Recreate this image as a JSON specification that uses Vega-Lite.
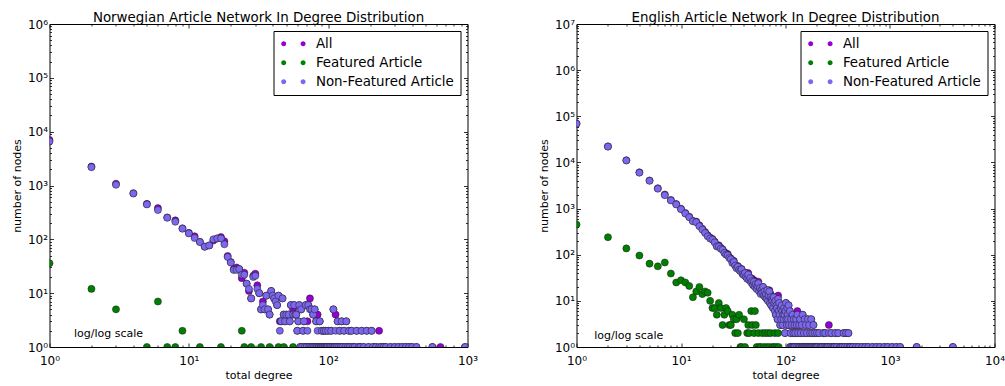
{
  "$schema": "https://vega.github.io/schema/vega-lite/v6.json",
  "background": "white",
  "padding": {"left": 10.5, "top": 10, "right": 0, "bottom": 0},
  "spacing": 59,
  "datasets": {
    "norwegian": [
      {"series":"All","degree":1,"count":7000},{"series":"All","degree":2,"count":2250},{"series":"All","degree":3,"count":1080},{"series":"All","degree":4,"count":720},{"series":"All","degree":5,"count":455},{"series":"All","degree":6,"count":380},{"series":"All","degree":7,"count":255},{"series":"All","degree":8,"count":225},{"series":"All","degree":9,"count":160},{"series":"All","degree":10,"count":132},
      {"series":"All","degree":11,"count":114},{"series":"All","degree":12,"count":90},{"series":"All","degree":13,"count":73},{"series":"All","degree":14,"count":77},{"series":"All","degree":15,"count":95},{"series":"All","degree":16,"count":104},{"series":"All","degree":17,"count":110},{"series":"All","degree":18,"count":92},{"series":"All","degree":19,"count":49},{"series":"All","degree":20,"count":38},
      {"series":"All","degree":21,"count":28},{"series":"All","degree":22,"count":30},{"series":"All","degree":23,"count":28},{"series":"All","degree":24,"count":19},{"series":"All","degree":25,"count":24},{"series":"All","degree":26,"count":15},{"series":"All","degree":27,"count":11},{"series":"All","degree":28,"count":8},{"series":"All","degree":29,"count":21},{"series":"All","degree":30,"count":23},
      {"series":"All","degree":31,"count":14},{"series":"All","degree":32,"count":10},{"series":"All","degree":33,"count":5},{"series":"All","degree":34,"count":7},{"series":"All","degree":35,"count":5},{"series":"All","degree":36,"count":9},{"series":"All","degree":37,"count":5},{"series":"All","degree":38,"count":4},{"series":"All","degree":39,"count":11},{"series":"All","degree":40,"count":9},
      {"series":"All","degree":41,"count":8},{"series":"All","degree":42,"count":8},{"series":"All","degree":43,"count":6},{"series":"All","degree":44,"count":9},{"series":"All","degree":45,"count":3},{"series":"All","degree":46,"count":3},{"series":"All","degree":47,"count":8},{"series":"All","degree":48,"count":4},{"series":"All","degree":49,"count":3},{"series":"All","degree":50,"count":4},
      {"series":"All","degree":52,"count":4},{"series":"All","degree":53,"count":3},{"series":"All","degree":54,"count":6},{"series":"All","degree":56,"count":5},{"series":"All","degree":57,"count":6},{"series":"All","degree":58,"count":4},{"series":"All","degree":59,"count":4},{"series":"All","degree":60,"count":2},{"series":"All","degree":61,"count":3},{"series":"All","degree":62,"count":6},
      {"series":"All","degree":63,"count":1},{"series":"All","degree":64,"count":5},{"series":"All","degree":65,"count":1},{"series":"All","degree":66,"count":2},{"series":"All","degree":67,"count":3},{"series":"All","degree":68,"count":1},{"series":"All","degree":69,"count":6},{"series":"All","degree":70,"count":1},{"series":"All","degree":71,"count":3},{"series":"All","degree":72,"count":6},
      {"series":"All","degree":73,"count":1},{"series":"All","degree":74,"count":8},{"series":"All","degree":75,"count":1},{"series":"All","degree":76,"count":5},{"series":"All","degree":77,"count":1},{"series":"All","degree":78,"count":4},{"series":"All","degree":79,"count":1},{"series":"All","degree":80,"count":5},{"series":"All","degree":81,"count":1},{"series":"All","degree":82,"count":3},
      {"series":"All","degree":83,"count":1},{"series":"All","degree":84,"count":4},{"series":"All","degree":85,"count":1},{"series":"All","degree":86,"count":1},{"series":"All","degree":87,"count":3},{"series":"All","degree":88,"count":1},{"series":"All","degree":89,"count":1},{"series":"All","degree":90,"count":2},{"series":"All","degree":91,"count":1},{"series":"All","degree":92,"count":1},
      {"series":"All","degree":93,"count":2},{"series":"All","degree":94,"count":1},{"series":"All","degree":95,"count":1},{"series":"All","degree":96,"count":2},{"series":"All","degree":97,"count":1},{"series":"All","degree":98,"count":1},{"series":"All","degree":99,"count":1},{"series":"All","degree":100,"count":2},{"series":"All","degree":102,"count":1},{"series":"All","degree":104,"count":1},
      {"series":"All","degree":105,"count":2},{"series":"All","degree":107,"count":1},{"series":"All","degree":109,"count":5},{"series":"All","degree":110,"count":1},{"series":"All","degree":112,"count":1},{"series":"All","degree":113,"count":4},{"series":"All","degree":115,"count":1},{"series":"All","degree":117,"count":3},{"series":"All","degree":119,"count":1},{"series":"All","degree":121,"count":2},
      {"series":"All","degree":123,"count":1},{"series":"All","degree":125,"count":3},{"series":"All","degree":127,"count":1},{"series":"All","degree":130,"count":2},{"series":"All","degree":133,"count":1},{"series":"All","degree":135,"count":3},{"series":"All","degree":138,"count":1},{"series":"All","degree":141,"count":2},{"series":"All","degree":143,"count":1},{"series":"All","degree":147,"count":2},
      {"series":"All","degree":150,"count":1},{"series":"All","degree":155,"count":1},{"series":"All","degree":160,"count":2},{"series":"All","degree":165,"count":1},{"series":"All","degree":170,"count":1},{"series":"All","degree":174,"count":2},{"series":"All","degree":180,"count":1},{"series":"All","degree":189,"count":2},{"series":"All","degree":195,"count":1},{"series":"All","degree":205,"count":2},
      {"series":"All","degree":210,"count":1},{"series":"All","degree":220,"count":1},{"series":"All","degree":232,"count":2},{"series":"All","degree":240,"count":1},{"series":"All","degree":250,"count":1},{"series":"All","degree":260,"count":1},{"series":"All","degree":280,"count":1},{"series":"All","degree":300,"count":1},{"series":"All","degree":320,"count":1},{"series":"All","degree":340,"count":1},
      {"series":"All","degree":360,"count":1},{"series":"All","degree":380,"count":1},{"series":"All","degree":400,"count":1},{"series":"All","degree":430,"count":1},{"series":"All","degree":560,"count":1},{"series":"All","degree":640,"count":1},{"series":"All","degree":960,"count":1},

      {"series":"Featured Article","degree":1,"count":36},{"series":"Featured Article","degree":2,"count":12},{"series":"Featured Article","degree":3,"count":5},{"series":"Featured Article","degree":5,"count":1},{"series":"Featured Article","degree":6,"count":7},{"series":"Featured Article","degree":7,"count":1},{"series":"Featured Article","degree":8,"count":1},{"series":"Featured Article","degree":9,"count":2},{"series":"Featured Article","degree":12,"count":1},
      {"series":"Featured Article","degree":17,"count":1},{"series":"Featured Article","degree":24,"count":2},{"series":"Featured Article","degree":25,"count":1},{"series":"Featured Article","degree":28,"count":1},{"series":"Featured Article","degree":33,"count":1},{"series":"Featured Article","degree":38,"count":1},{"series":"Featured Article","degree":44,"count":1},{"series":"Featured Article","degree":48,"count":1},{"series":"Featured Article","degree":56,"count":1},

      {"series":"Non-Featured Article","degree":1,"count":6600},{"series":"Non-Featured Article","degree":2,"count":2190},{"series":"Non-Featured Article","degree":3,"count":1030},{"series":"Non-Featured Article","degree":4,"count":710},{"series":"Non-Featured Article","degree":5,"count":445},{"series":"Non-Featured Article","degree":6,"count":350},{"series":"Non-Featured Article","degree":7,"count":252},{"series":"Non-Featured Article","degree":8,"count":212},{"series":"Non-Featured Article","degree":9,"count":158},{"series":"Non-Featured Article","degree":10,"count":129},
      {"series":"Non-Featured Article","degree":11,"count":106},{"series":"Non-Featured Article","degree":12,"count":89},{"series":"Non-Featured Article","degree":13,"count":73},{"series":"Non-Featured Article","degree":14,"count":77},{"series":"Non-Featured Article","degree":15,"count":100},{"series":"Non-Featured Article","degree":16,"count":104},{"series":"Non-Featured Article","degree":17,"count":104},{"series":"Non-Featured Article","degree":18,"count":81},{"series":"Non-Featured Article","degree":19,"count":47},{"series":"Non-Featured Article","degree":20,"count":37},
      {"series":"Non-Featured Article","degree":21,"count":27},{"series":"Non-Featured Article","degree":22,"count":27},{"series":"Non-Featured Article","degree":23,"count":28},{"series":"Non-Featured Article","degree":24,"count":22},{"series":"Non-Featured Article","degree":25,"count":22},{"series":"Non-Featured Article","degree":26,"count":15},{"series":"Non-Featured Article","degree":27,"count":12},{"series":"Non-Featured Article","degree":28,"count":8},{"series":"Non-Featured Article","degree":29,"count":20},{"series":"Non-Featured Article","degree":30,"count":21},
      {"series":"Non-Featured Article","degree":31,"count":12},{"series":"Non-Featured Article","degree":32,"count":10},{"series":"Non-Featured Article","degree":33,"count":5},{"series":"Non-Featured Article","degree":34,"count":6},{"series":"Non-Featured Article","degree":35,"count":5},{"series":"Non-Featured Article","degree":36,"count":9},{"series":"Non-Featured Article","degree":37,"count":5},{"series":"Non-Featured Article","degree":38,"count":4},{"series":"Non-Featured Article","degree":39,"count":11},{"series":"Non-Featured Article","degree":40,"count":9},
      {"series":"Non-Featured Article","degree":41,"count":8},{"series":"Non-Featured Article","degree":42,"count":7},{"series":"Non-Featured Article","degree":43,"count":6},{"series":"Non-Featured Article","degree":44,"count":9},{"series":"Non-Featured Article","degree":45,"count":2},{"series":"Non-Featured Article","degree":46,"count":3},{"series":"Non-Featured Article","degree":47,"count":8},{"series":"Non-Featured Article","degree":48,"count":4},{"series":"Non-Featured Article","degree":49,"count":3},{"series":"Non-Featured Article","degree":50,"count":4},
      {"series":"Non-Featured Article","degree":52,"count":4},{"series":"Non-Featured Article","degree":53,"count":3},{"series":"Non-Featured Article","degree":54,"count":6},{"series":"Non-Featured Article","degree":56,"count":4},{"series":"Non-Featured Article","degree":57,"count":6},{"series":"Non-Featured Article","degree":58,"count":4},{"series":"Non-Featured Article","degree":59,"count":4},{"series":"Non-Featured Article","degree":60,"count":2},{"series":"Non-Featured Article","degree":61,"count":3},{"series":"Non-Featured Article","degree":62,"count":6},
      {"series":"Non-Featured Article","degree":63,"count":1},{"series":"Non-Featured Article","degree":64,"count":5},{"series":"Non-Featured Article","degree":65,"count":1},{"series":"Non-Featured Article","degree":66,"count":2},{"series":"Non-Featured Article","degree":67,"count":3},{"series":"Non-Featured Article","degree":68,"count":1},{"series":"Non-Featured Article","degree":69,"count":6},{"series":"Non-Featured Article","degree":70,"count":1},{"series":"Non-Featured Article","degree":71,"count":2},{"series":"Non-Featured Article","degree":72,"count":6},
      {"series":"Non-Featured Article","degree":73,"count":1},{"series":"Non-Featured Article","degree":74,"count":5},{"series":"Non-Featured Article","degree":75,"count":1},{"series":"Non-Featured Article","degree":76,"count":5},{"series":"Non-Featured Article","degree":77,"count":1},{"series":"Non-Featured Article","degree":78,"count":4},{"series":"Non-Featured Article","degree":79,"count":1},{"series":"Non-Featured Article","degree":80,"count":5},{"series":"Non-Featured Article","degree":81,"count":1},{"series":"Non-Featured Article","degree":82,"count":3},
      {"series":"Non-Featured Article","degree":83,"count":1},{"series":"Non-Featured Article","degree":84,"count":2},{"series":"Non-Featured Article","degree":85,"count":1},{"series":"Non-Featured Article","degree":86,"count":1},{"series":"Non-Featured Article","degree":87,"count":3},{"series":"Non-Featured Article","degree":88,"count":1},{"series":"Non-Featured Article","degree":89,"count":1},{"series":"Non-Featured Article","degree":90,"count":2},{"series":"Non-Featured Article","degree":91,"count":1},{"series":"Non-Featured Article","degree":92,"count":1},
      {"series":"Non-Featured Article","degree":93,"count":2},{"series":"Non-Featured Article","degree":94,"count":1},{"series":"Non-Featured Article","degree":95,"count":1},{"series":"Non-Featured Article","degree":96,"count":2},{"series":"Non-Featured Article","degree":97,"count":1},{"series":"Non-Featured Article","degree":98,"count":1},{"series":"Non-Featured Article","degree":99,"count":1},{"series":"Non-Featured Article","degree":100,"count":2},{"series":"Non-Featured Article","degree":102,"count":1},{"series":"Non-Featured Article","degree":104,"count":1},
      {"series":"Non-Featured Article","degree":105,"count":2},{"series":"Non-Featured Article","degree":107,"count":1},{"series":"Non-Featured Article","degree":109,"count":5},{"series":"Non-Featured Article","degree":110,"count":1},{"series":"Non-Featured Article","degree":112,"count":1},{"series":"Non-Featured Article","degree":113,"count":2},{"series":"Non-Featured Article","degree":115,"count":1},{"series":"Non-Featured Article","degree":117,"count":3},{"series":"Non-Featured Article","degree":119,"count":1},{"series":"Non-Featured Article","degree":121,"count":2},
      {"series":"Non-Featured Article","degree":123,"count":1},{"series":"Non-Featured Article","degree":125,"count":3},{"series":"Non-Featured Article","degree":127,"count":1},{"series":"Non-Featured Article","degree":130,"count":2},{"series":"Non-Featured Article","degree":133,"count":1},{"series":"Non-Featured Article","degree":135,"count":3},{"series":"Non-Featured Article","degree":138,"count":1},{"series":"Non-Featured Article","degree":141,"count":2},{"series":"Non-Featured Article","degree":143,"count":1},{"series":"Non-Featured Article","degree":147,"count":2},
      {"series":"Non-Featured Article","degree":150,"count":1},{"series":"Non-Featured Article","degree":155,"count":1},{"series":"Non-Featured Article","degree":160,"count":2},{"series":"Non-Featured Article","degree":165,"count":1},{"series":"Non-Featured Article","degree":170,"count":1},{"series":"Non-Featured Article","degree":174,"count":2},{"series":"Non-Featured Article","degree":180,"count":1},{"series":"Non-Featured Article","degree":189,"count":2},{"series":"Non-Featured Article","degree":195,"count":1},{"series":"Non-Featured Article","degree":205,"count":2},
      {"series":"Non-Featured Article","degree":210,"count":1},{"series":"Non-Featured Article","degree":220,"count":1},{"series":"Non-Featured Article","degree":232,"count":1},{"series":"Non-Featured Article","degree":240,"count":1},{"series":"Non-Featured Article","degree":250,"count":1},{"series":"Non-Featured Article","degree":260,"count":1},{"series":"Non-Featured Article","degree":280,"count":1},{"series":"Non-Featured Article","degree":300,"count":1},{"series":"Non-Featured Article","degree":320,"count":1},{"series":"Non-Featured Article","degree":340,"count":1},
      {"series":"Non-Featured Article","degree":360,"count":1},{"series":"Non-Featured Article","degree":380,"count":1},{"series":"Non-Featured Article","degree":400,"count":1},{"series":"Non-Featured Article","degree":430,"count":1},{"series":"Non-Featured Article","degree":560,"count":1},{"series":"Non-Featured Article","degree":960,"count":1}
    ],
    "english": [
      {"series":"All","degree":1,"count":69450},{"series":"All","degree":2,"count":22240},{"series":"All","degree":3,"count":11137},{"series":"All","degree":4,"count":6096},{"series":"All","degree":5,"count":4064},{"series":"All","degree":6,"count":2756},{"series":"All","degree":7,"count":2018},{"series":"All","degree":8,"count":1539},{"series":"All","degree":9,"count":1255},{"series":"All","degree":10,"count":994},
      {"series":"All","degree":11,"count":805},{"series":"All","degree":12,"count":667},{"series":"All","degree":13,"count":542},{"series":"All","degree":14,"count":521},{"series":"All","degree":15,"count":435},{"series":"All","degree":16,"count":364},{"series":"All","degree":17,"count":312},{"series":"All","degree":18,"count":265},{"series":"All","degree":19,"count":235},{"series":"All","degree":20,"count":219},
      {"series":"All","degree":21,"count":192},{"series":"All","degree":22,"count":156},{"series":"All","degree":23,"count":160},{"series":"All","degree":24,"count":142},{"series":"All","degree":25,"count":131},{"series":"All","degree":26,"count":114},{"series":"All","degree":27,"count":107},{"series":"All","degree":28,"count":103},{"series":"All","degree":29,"count":88},{"series":"All","degree":30,"count":83},
      {"series":"All","degree":31,"count":71},{"series":"All","degree":32,"count":74},{"series":"All","degree":33,"count":60},{"series":"All","degree":34,"count":55},{"series":"All","degree":35,"count":57},{"series":"All","degree":36,"count":52},{"series":"All","degree":37,"count":45},{"series":"All","degree":38,"count":49},{"series":"All","degree":39,"count":38},{"series":"All","degree":40,"count":40},
      {"series":"All","degree":41,"count":41},{"series":"All","degree":42,"count":33},{"series":"All","degree":43,"count":32},{"series":"All","degree":44,"count":40},{"series":"All","degree":45,"count":30},{"series":"All","degree":46,"count":31},{"series":"All","degree":47,"count":31},{"series":"All","degree":48,"count":30},{"series":"All","degree":49,"count":22},{"series":"All","degree":50,"count":28},
      {"series":"All","degree":51,"count":26},{"series":"All","degree":52,"count":26},{"series":"All","degree":53,"count":19},{"series":"All","degree":54,"count":21},{"series":"All","degree":55,"count":26},{"series":"All","degree":56,"count":17},{"series":"All","degree":57,"count":19},{"series":"All","degree":58,"count":15},{"series":"All","degree":59,"count":17},{"series":"All","degree":60,"count":17},
      {"series":"All","degree":61,"count":20},{"series":"All","degree":62,"count":14},{"series":"All","degree":63,"count":16},{"series":"All","degree":64,"count":14},{"series":"All","degree":65,"count":14},{"series":"All","degree":66,"count":12},{"series":"All","degree":67,"count":17},{"series":"All","degree":68,"count":12},{"series":"All","degree":69,"count":13},{"series":"All","degree":70,"count":17},
      {"series":"All","degree":71,"count":9},{"series":"All","degree":72,"count":14},{"series":"All","degree":73,"count":8},{"series":"All","degree":74,"count":11},{"series":"All","degree":75,"count":11},{"series":"All","degree":76,"count":7},{"series":"All","degree":77,"count":12},{"series":"All","degree":78,"count":10},{"series":"All","degree":79,"count":8},{"series":"All","degree":80,"count":10},
      {"series":"All","degree":81,"count":5},{"series":"All","degree":82,"count":9},{"series":"All","degree":83,"count":7},{"series":"All","degree":84,"count":4},{"series":"All","degree":85,"count":13},{"series":"All","degree":86,"count":7},{"series":"All","degree":87,"count":9},{"series":"All","degree":88,"count":5},{"series":"All","degree":89,"count":3},{"series":"All","degree":90,"count":7},
      {"series":"All","degree":91,"count":4},{"series":"All","degree":92,"count":8},{"series":"All","degree":93,"count":6},{"series":"All","degree":94,"count":3},{"series":"All","degree":95,"count":5},{"series":"All","degree":96,"count":4},{"series":"All","degree":97,"count":7},{"series":"All","degree":98,"count":5},{"series":"All","degree":99,"count":2},{"series":"All","degree":100,"count":6},
      {"series":"All","degree":101,"count":9},{"series":"All","degree":102,"count":4},{"series":"All","degree":103,"count":3},{"series":"All","degree":104,"count":7},{"series":"All","degree":105,"count":5},{"series":"All","degree":106,"count":4},{"series":"All","degree":107,"count":8},{"series":"All","degree":108,"count":3},{"series":"All","degree":110,"count":6},{"series":"All","degree":111,"count":1},
      {"series":"All","degree":112,"count":2},{"series":"All","degree":113,"count":4},{"series":"All","degree":114,"count":1},{"series":"All","degree":115,"count":3},{"series":"All","degree":116,"count":1},{"series":"All","degree":117,"count":5},{"series":"All","degree":118,"count":1},{"series":"All","degree":119,"count":2},{"series":"All","degree":120,"count":4},{"series":"All","degree":121,"count":1},
      {"series":"All","degree":122,"count":3},{"series":"All","degree":123,"count":1},{"series":"All","degree":124,"count":2},{"series":"All","degree":126,"count":4},{"series":"All","degree":128,"count":3},{"series":"All","degree":129,"count":1},{"series":"All","degree":130,"count":6},{"series":"All","degree":132,"count":2},{"series":"All","degree":134,"count":1},{"series":"All","degree":135,"count":3},
      {"series":"All","degree":137,"count":1},{"series":"All","degree":138,"count":4},{"series":"All","degree":140,"count":2},{"series":"All","degree":142,"count":1},{"series":"All","degree":143,"count":3},{"series":"All","degree":145,"count":1},{"series":"All","degree":146,"count":5},{"series":"All","degree":148,"count":1},{"series":"All","degree":150,"count":2},{"series":"All","degree":152,"count":1},
      {"series":"All","degree":153,"count":4},{"series":"All","degree":155,"count":1},{"series":"All","degree":156,"count":3},{"series":"All","degree":158,"count":1},{"series":"All","degree":160,"count":2},{"series":"All","degree":162,"count":1},{"series":"All","degree":164,"count":4},{"series":"All","degree":166,"count":1},{"series":"All","degree":168,"count":3},{"series":"All","degree":170,"count":1},
      {"series":"All","degree":172,"count":2},{"series":"All","degree":174,"count":1},{"series":"All","degree":176,"count":4},{"series":"All","degree":178,"count":1},{"series":"All","degree":180,"count":2},{"series":"All","degree":183,"count":1},{"series":"All","degree":185,"count":3},{"series":"All","degree":188,"count":1},{"series":"All","degree":190,"count":2},{"series":"All","degree":193,"count":1},
      {"series":"All","degree":195,"count":1},{"series":"All","degree":198,"count":1},{"series":"All","degree":200,"count":2},{"series":"All","degree":205,"count":1},{"series":"All","degree":210,"count":2},{"series":"All","degree":215,"count":1},{"series":"All","degree":220,"count":1},{"series":"All","degree":225,"count":1},{"series":"All","degree":230,"count":2},{"series":"All","degree":235,"count":1},
      {"series":"All","degree":240,"count":2},{"series":"All","degree":245,"count":1},{"series":"All","degree":250,"count":1},{"series":"All","degree":255,"count":1},{"series":"All","degree":260,"count":3},{"series":"All","degree":268,"count":1},{"series":"All","degree":275,"count":2},{"series":"All","degree":280,"count":1},{"series":"All","degree":290,"count":1},{"series":"All","degree":295,"count":1},
      {"series":"All","degree":300,"count":2},{"series":"All","degree":310,"count":1},{"series":"All","degree":320,"count":2},{"series":"All","degree":330,"count":1},{"series":"All","degree":340,"count":1},{"series":"All","degree":350,"count":1},{"series":"All","degree":360,"count":2},{"series":"All","degree":370,"count":1},{"series":"All","degree":380,"count":2},{"series":"All","degree":390,"count":1},
      {"series":"All","degree":400,"count":2},{"series":"All","degree":410,"count":1},{"series":"All","degree":420,"count":1},{"series":"All","degree":440,"count":1},{"series":"All","degree":470,"count":1},{"series":"All","degree":500,"count":1},{"series":"All","degree":540,"count":1},{"series":"All","degree":580,"count":1},{"series":"All","degree":620,"count":1},{"series":"All","degree":680,"count":1},
      {"series":"All","degree":740,"count":1},{"series":"All","degree":800,"count":1},{"series":"All","degree":880,"count":1},{"series":"All","degree":950,"count":1},{"series":"All","degree":1050,"count":1},{"series":"All","degree":1150,"count":1},{"series":"All","degree":1250,"count":1},{"series":"All","degree":1800,"count":1},{"series":"All","degree":4000,"count":1},

      {"series":"Featured Article","degree":1,"count":450},{"series":"Featured Article","degree":2,"count":240},{"series":"Featured Article","degree":3,"count":137},{"series":"Featured Article","degree":4,"count":96},{"series":"Featured Article","degree":5,"count":64},{"series":"Featured Article","degree":6,"count":56},{"series":"Featured Article","degree":7,"count":68},{"series":"Featured Article","degree":8,"count":39},{"series":"Featured Article","degree":9,"count":25},{"series":"Featured Article","degree":10,"count":28},
      {"series":"Featured Article","degree":11,"count":25},{"series":"Featured Article","degree":12,"count":21},{"series":"Featured Article","degree":13,"count":12},{"series":"Featured Article","degree":14,"count":16},{"series":"Featured Article","degree":15,"count":20},{"series":"Featured Article","degree":16,"count":14},{"series":"Featured Article","degree":17,"count":16},{"series":"Featured Article","degree":18,"count":15},{"series":"Featured Article","degree":19,"count":10},{"series":"Featured Article","degree":20,"count":7},
      {"series":"Featured Article","degree":21,"count":7},{"series":"Featured Article","degree":22,"count":5},{"series":"Featured Article","degree":23,"count":9},{"series":"Featured Article","degree":24,"count":7},{"series":"Featured Article","degree":25,"count":3},{"series":"Featured Article","degree":26,"count":5},{"series":"Featured Article","degree":27,"count":7},{"series":"Featured Article","degree":28,"count":6},{"series":"Featured Article","degree":29,"count":3},{"series":"Featured Article","degree":30,"count":3},
      {"series":"Featured Article","degree":31,"count":5},{"series":"Featured Article","degree":32,"count":4},{"series":"Featured Article","degree":33,"count":2},{"series":"Featured Article","degree":34,"count":4},{"series":"Featured Article","degree":35,"count":2},{"series":"Featured Article","degree":36,"count":5},{"series":"Featured Article","degree":37,"count":1},{"series":"Featured Article","degree":38,"count":1},{"series":"Featured Article","degree":40,"count":4},{"series":"Featured Article","degree":41,"count":1},
      {"series":"Featured Article","degree":43,"count":2},{"series":"Featured Article","degree":44,"count":3},{"series":"Featured Article","degree":45,"count":2},{"series":"Featured Article","degree":47,"count":6},{"series":"Featured Article","degree":48,"count":3},{"series":"Featured Article","degree":50,"count":2},{"series":"Featured Article","degree":51,"count":6},{"series":"Featured Article","degree":52,"count":3},{"series":"Featured Article","degree":53,"count":1},{"series":"Featured Article","degree":55,"count":2},
      {"series":"Featured Article","degree":56,"count":1},{"series":"Featured Article","degree":58,"count":1},{"series":"Featured Article","degree":60,"count":2},{"series":"Featured Article","degree":62,"count":1},{"series":"Featured Article","degree":64,"count":2},{"series":"Featured Article","degree":66,"count":1},{"series":"Featured Article","degree":68,"count":2},{"series":"Featured Article","degree":70,"count":1},{"series":"Featured Article","degree":72,"count":2},{"series":"Featured Article","degree":75,"count":1},
      {"series":"Featured Article","degree":78,"count":1},{"series":"Featured Article","degree":79,"count":2},{"series":"Featured Article","degree":82,"count":1},{"series":"Featured Article","degree":85,"count":2},{"series":"Featured Article","degree":86,"count":1},

      {"series":"Non-Featured Article","degree":1,"count":69000},{"series":"Non-Featured Article","degree":2,"count":22000},{"series":"Non-Featured Article","degree":3,"count":11000},{"series":"Non-Featured Article","degree":4,"count":6000},{"series":"Non-Featured Article","degree":5,"count":4000},{"series":"Non-Featured Article","degree":6,"count":2700},{"series":"Non-Featured Article","degree":7,"count":1950},{"series":"Non-Featured Article","degree":8,"count":1500},{"series":"Non-Featured Article","degree":9,"count":1230},{"series":"Non-Featured Article","degree":10,"count":966},
      {"series":"Non-Featured Article","degree":11,"count":780},{"series":"Non-Featured Article","degree":12,"count":646},{"series":"Non-Featured Article","degree":13,"count":530},{"series":"Non-Featured Article","degree":14,"count":505},{"series":"Non-Featured Article","degree":15,"count":415},{"series":"Non-Featured Article","degree":16,"count":350},{"series":"Non-Featured Article","degree":17,"count":296},{"series":"Non-Featured Article","degree":18,"count":250},{"series":"Non-Featured Article","degree":19,"count":225},{"series":"Non-Featured Article","degree":20,"count":212},
      {"series":"Non-Featured Article","degree":21,"count":185},{"series":"Non-Featured Article","degree":22,"count":151},{"series":"Non-Featured Article","degree":23,"count":151},{"series":"Non-Featured Article","degree":24,"count":135},{"series":"Non-Featured Article","degree":25,"count":128},{"series":"Non-Featured Article","degree":26,"count":109},{"series":"Non-Featured Article","degree":27,"count":100},{"series":"Non-Featured Article","degree":28,"count":97},{"series":"Non-Featured Article","degree":29,"count":85},{"series":"Non-Featured Article","degree":30,"count":80},
      {"series":"Non-Featured Article","degree":31,"count":66},{"series":"Non-Featured Article","degree":32,"count":70},{"series":"Non-Featured Article","degree":33,"count":58},{"series":"Non-Featured Article","degree":34,"count":51},{"series":"Non-Featured Article","degree":35,"count":55},{"series":"Non-Featured Article","degree":36,"count":47},{"series":"Non-Featured Article","degree":37,"count":44},{"series":"Non-Featured Article","degree":38,"count":48},{"series":"Non-Featured Article","degree":39,"count":38},{"series":"Non-Featured Article","degree":40,"count":36},
      {"series":"Non-Featured Article","degree":41,"count":40},{"series":"Non-Featured Article","degree":42,"count":33},{"series":"Non-Featured Article","degree":43,"count":30},{"series":"Non-Featured Article","degree":44,"count":37},{"series":"Non-Featured Article","degree":45,"count":28},{"series":"Non-Featured Article","degree":46,"count":31},{"series":"Non-Featured Article","degree":47,"count":25},{"series":"Non-Featured Article","degree":48,"count":27},{"series":"Non-Featured Article","degree":49,"count":22},{"series":"Non-Featured Article","degree":50,"count":26},
      {"series":"Non-Featured Article","degree":51,"count":20},{"series":"Non-Featured Article","degree":52,"count":23},{"series":"Non-Featured Article","degree":53,"count":18},{"series":"Non-Featured Article","degree":54,"count":21},{"series":"Non-Featured Article","degree":55,"count":24},{"series":"Non-Featured Article","degree":56,"count":16},{"series":"Non-Featured Article","degree":57,"count":19},{"series":"Non-Featured Article","degree":58,"count":14},{"series":"Non-Featured Article","degree":59,"count":17},{"series":"Non-Featured Article","degree":60,"count":15},
      {"series":"Non-Featured Article","degree":61,"count":20},{"series":"Non-Featured Article","degree":62,"count":13},{"series":"Non-Featured Article","degree":63,"count":16},{"series":"Non-Featured Article","degree":64,"count":12},{"series":"Non-Featured Article","degree":65,"count":14},{"series":"Non-Featured Article","degree":66,"count":11},{"series":"Non-Featured Article","degree":67,"count":17},{"series":"Non-Featured Article","degree":68,"count":10},{"series":"Non-Featured Article","degree":69,"count":13},{"series":"Non-Featured Article","degree":70,"count":16},
      {"series":"Non-Featured Article","degree":71,"count":9},{"series":"Non-Featured Article","degree":72,"count":12},{"series":"Non-Featured Article","degree":73,"count":8},{"series":"Non-Featured Article","degree":74,"count":11},{"series":"Non-Featured Article","degree":75,"count":10},{"series":"Non-Featured Article","degree":76,"count":7},{"series":"Non-Featured Article","degree":77,"count":12},{"series":"Non-Featured Article","degree":78,"count":9},{"series":"Non-Featured Article","degree":79,"count":6},{"series":"Non-Featured Article","degree":80,"count":10},
      {"series":"Non-Featured Article","degree":81,"count":5},{"series":"Non-Featured Article","degree":82,"count":8},{"series":"Non-Featured Article","degree":83,"count":7},{"series":"Non-Featured Article","degree":84,"count":4},{"series":"Non-Featured Article","degree":85,"count":11},{"series":"Non-Featured Article","degree":86,"count":6},{"series":"Non-Featured Article","degree":87,"count":9},{"series":"Non-Featured Article","degree":88,"count":5},{"series":"Non-Featured Article","degree":89,"count":3},{"series":"Non-Featured Article","degree":90,"count":7},
      {"series":"Non-Featured Article","degree":91,"count":4},{"series":"Non-Featured Article","degree":92,"count":8},{"series":"Non-Featured Article","degree":93,"count":6},{"series":"Non-Featured Article","degree":94,"count":3},{"series":"Non-Featured Article","degree":95,"count":5},{"series":"Non-Featured Article","degree":96,"count":4},{"series":"Non-Featured Article","degree":97,"count":7},{"series":"Non-Featured Article","degree":98,"count":5},{"series":"Non-Featured Article","degree":99,"count":2},{"series":"Non-Featured Article","degree":100,"count":6},
      {"series":"Non-Featured Article","degree":101,"count":9},{"series":"Non-Featured Article","degree":102,"count":4},{"series":"Non-Featured Article","degree":103,"count":3},{"series":"Non-Featured Article","degree":104,"count":7},{"series":"Non-Featured Article","degree":105,"count":5},{"series":"Non-Featured Article","degree":106,"count":4},{"series":"Non-Featured Article","degree":107,"count":8},{"series":"Non-Featured Article","degree":108,"count":3},{"series":"Non-Featured Article","degree":110,"count":6},{"series":"Non-Featured Article","degree":111,"count":1},
      {"series":"Non-Featured Article","degree":112,"count":2},{"series":"Non-Featured Article","degree":113,"count":4},{"series":"Non-Featured Article","degree":114,"count":1},{"series":"Non-Featured Article","degree":115,"count":3},{"series":"Non-Featured Article","degree":116,"count":1},{"series":"Non-Featured Article","degree":117,"count":5},{"series":"Non-Featured Article","degree":118,"count":1},{"series":"Non-Featured Article","degree":119,"count":2},{"series":"Non-Featured Article","degree":120,"count":4},{"series":"Non-Featured Article","degree":121,"count":1},
      {"series":"Non-Featured Article","degree":122,"count":3},{"series":"Non-Featured Article","degree":123,"count":1},{"series":"Non-Featured Article","degree":124,"count":2},{"series":"Non-Featured Article","degree":126,"count":4},{"series":"Non-Featured Article","degree":128,"count":3},{"series":"Non-Featured Article","degree":129,"count":1},{"series":"Non-Featured Article","degree":130,"count":5},{"series":"Non-Featured Article","degree":132,"count":2},{"series":"Non-Featured Article","degree":134,"count":1},{"series":"Non-Featured Article","degree":135,"count":3},
      {"series":"Non-Featured Article","degree":137,"count":1},{"series":"Non-Featured Article","degree":138,"count":4},{"series":"Non-Featured Article","degree":140,"count":2},{"series":"Non-Featured Article","degree":142,"count":1},{"series":"Non-Featured Article","degree":143,"count":3},{"series":"Non-Featured Article","degree":145,"count":1},{"series":"Non-Featured Article","degree":146,"count":5},{"series":"Non-Featured Article","degree":148,"count":1},{"series":"Non-Featured Article","degree":150,"count":2},{"series":"Non-Featured Article","degree":152,"count":1},
      {"series":"Non-Featured Article","degree":153,"count":4},{"series":"Non-Featured Article","degree":155,"count":1},{"series":"Non-Featured Article","degree":156,"count":3},{"series":"Non-Featured Article","degree":158,"count":1},{"series":"Non-Featured Article","degree":160,"count":2},{"series":"Non-Featured Article","degree":162,"count":1},{"series":"Non-Featured Article","degree":164,"count":4},{"series":"Non-Featured Article","degree":166,"count":1},{"series":"Non-Featured Article","degree":168,"count":3},{"series":"Non-Featured Article","degree":170,"count":1},
      {"series":"Non-Featured Article","degree":172,"count":2},{"series":"Non-Featured Article","degree":174,"count":1},{"series":"Non-Featured Article","degree":176,"count":4},{"series":"Non-Featured Article","degree":178,"count":1},{"series":"Non-Featured Article","degree":180,"count":2},{"series":"Non-Featured Article","degree":183,"count":1},{"series":"Non-Featured Article","degree":185,"count":3},{"series":"Non-Featured Article","degree":188,"count":1},{"series":"Non-Featured Article","degree":190,"count":2},{"series":"Non-Featured Article","degree":193,"count":1},
      {"series":"Non-Featured Article","degree":195,"count":1},{"series":"Non-Featured Article","degree":198,"count":1},{"series":"Non-Featured Article","degree":200,"count":2},{"series":"Non-Featured Article","degree":205,"count":1},{"series":"Non-Featured Article","degree":210,"count":2},{"series":"Non-Featured Article","degree":215,"count":1},{"series":"Non-Featured Article","degree":220,"count":1},{"series":"Non-Featured Article","degree":225,"count":1},{"series":"Non-Featured Article","degree":230,"count":2},{"series":"Non-Featured Article","degree":235,"count":1},
      {"series":"Non-Featured Article","degree":240,"count":2},{"series":"Non-Featured Article","degree":245,"count":1},{"series":"Non-Featured Article","degree":250,"count":1},{"series":"Non-Featured Article","degree":255,"count":1},{"series":"Non-Featured Article","degree":260,"count":2},{"series":"Non-Featured Article","degree":268,"count":1},{"series":"Non-Featured Article","degree":275,"count":2},{"series":"Non-Featured Article","degree":280,"count":1},{"series":"Non-Featured Article","degree":290,"count":1},{"series":"Non-Featured Article","degree":295,"count":1},
      {"series":"Non-Featured Article","degree":300,"count":2},{"series":"Non-Featured Article","degree":310,"count":1},{"series":"Non-Featured Article","degree":320,"count":2},{"series":"Non-Featured Article","degree":330,"count":1},{"series":"Non-Featured Article","degree":340,"count":1},{"series":"Non-Featured Article","degree":350,"count":1},{"series":"Non-Featured Article","degree":360,"count":2},{"series":"Non-Featured Article","degree":370,"count":1},{"series":"Non-Featured Article","degree":380,"count":2},{"series":"Non-Featured Article","degree":390,"count":1},
      {"series":"Non-Featured Article","degree":400,"count":2},{"series":"Non-Featured Article","degree":410,"count":1},{"series":"Non-Featured Article","degree":420,"count":1},{"series":"Non-Featured Article","degree":440,"count":1},{"series":"Non-Featured Article","degree":470,"count":1},{"series":"Non-Featured Article","degree":500,"count":1},{"series":"Non-Featured Article","degree":540,"count":1},{"series":"Non-Featured Article","degree":580,"count":1},{"series":"Non-Featured Article","degree":620,"count":1},{"series":"Non-Featured Article","degree":680,"count":1},
      {"series":"Non-Featured Article","degree":740,"count":1},{"series":"Non-Featured Article","degree":800,"count":1},{"series":"Non-Featured Article","degree":880,"count":1},{"series":"Non-Featured Article","degree":950,"count":1},{"series":"Non-Featured Article","degree":1050,"count":1},{"series":"Non-Featured Article","degree":1150,"count":1},{"series":"Non-Featured Article","degree":1250,"count":1},{"series":"Non-Featured Article","degree":1800,"count":1},{"series":"Non-Featured Article","degree":4000,"count":1}
    ]
  },
  "hconcat": [
    {
      "width": 418, "height": 323,
      "title": {"text": "Norwegian Article Network In Degree Distribution"},
      "data": {"name": "norwegian"},
      "resolve": {"axis": {"x": "independent", "y": "independent"}},
      "layer": [
        {
          "mark": {"type": "circle", "clip": true, "size": 50, "opacity": 1, "stroke": "#1a1a1a", "strokeWidth": 0.5},
          "encoding": {
            "x": {"field": "degree", "type": "quantitative", "scale": {"type": "log", "domain": [1, 1000], "nice": false},
                  "axis": {"title": "total degree", "values": [1, 10, 100, 1000], "ticks": false, "labelPadding": 8, "titlePadding": 3,
                           "labelExpr": "'10' + ['⁰','¹','²','³','⁴','⁵','⁶','⁷'][round(log(datum.value)/LN10)]"}},
            "y": {"field": "count", "type": "quantitative", "scale": {"type": "log", "domain": [1, 1000000], "nice": false},
                  "axis": {"title": "number of nodes", "values": [1, 10, 100, 1000, 10000, 100000, 1000000], "ticks": false, "labelPadding": 2, "titlePadding": 5,
                           "labelExpr": "'10' + ['⁰','¹','²','³','⁴','⁵','⁶','⁷'][round(log(datum.value)/LN10)]"}},
            "color": {"field": "series", "type": "nominal",
                      "scale": {"domain": ["All", "Featured Article", "Non-Featured Article"], "range": ["#9400D3", "#008000", "#7B68EE"]},
                      "legend": {"title": null, "symbolType": "M-1,0a0.5,0.5 0 1,0 1,0a0.5,0.5 0 1,0 -1,0M2.88,0a0.5,0.5 0 1,0 1,0a0.5,0.5 0 1,0 -1,0"}}
          }
        },
        {
          "mark": {"type": "circle", "opacity": 0},
          "encoding": {
            "x": {"field": "degree", "type": "quantitative", "axis": {"orient": "bottom", "values": [1, 10, 100, 1000], "labels": false, "tickSize": -4, "title": null}},
            "y": {"field": "count", "type": "quantitative", "axis": {"orient": "left", "values": [1, 10, 100, 1000, 10000, 100000, 1000000], "labels": false, "tickSize": -4, "title": null}}
          }
        },
        {
          "mark": {"type": "circle", "opacity": 0},
          "encoding": {
            "x": {"field": "degree", "type": "quantitative", "axis": {"orient": "bottom", "values": [2,3,4,5,6,7,8,9,20,30,40,50,60,70,80,90,200,300,400,500,600,700,800,900], "labels": false, "tickSize": -2, "title": null}},
            "y": {"field": "count", "type": "quantitative", "axis": {"orient": "left", "values": [2,3,4,5,6,7,8,9,20,30,40,50,60,70,80,90,200,300,400,500,600,700,800,900,2000,3000,4000,5000,6000,7000,8000,9000,20000,30000,40000,50000,60000,70000,80000,90000,200000,300000,400000,500000,600000,700000,800000,900000], "labels": false, "tickSize": -2, "title": null}}
          }
        },
        {
          "mark": {"type": "circle", "opacity": 0},
          "encoding": {
            "x": {"field": "degree", "type": "quantitative", "axis": {"orient": "top", "values": [1, 10, 100, 1000], "labels": false, "tickSize": -4, "title": null}},
            "y": {"field": "count", "type": "quantitative", "axis": {"orient": "right", "values": [1, 10, 100, 1000, 10000, 100000, 1000000], "labels": false, "tickSize": -4, "title": null}}
          }
        },
        {
          "mark": {"type": "circle", "opacity": 0},
          "encoding": {
            "x": {"field": "degree", "type": "quantitative", "axis": {"orient": "top", "values": [2,3,4,5,6,7,8,9,20,30,40,50,60,70,80,90,200,300,400,500,600,700,800,900], "labels": false, "tickSize": -2, "title": null}},
            "y": {"field": "count", "type": "quantitative", "axis": {"orient": "right", "values": [2,3,4,5,6,7,8,9,20,30,40,50,60,70,80,90,200,300,400,500,600,700,800,900,2000,3000,4000,5000,6000,7000,8000,9000,20000,30000,40000,50000,60000,70000,80000,90000,200000,300000,400000,500000,600000,700000,800000,900000], "labels": false, "tickSize": -2, "title": null}}
          }
        },
        {
          "data": {"values": [{"label": "log/log scale"}]},
          "mark": {"type": "text", "align": "left", "baseline": "alphabetic", "fontSize": 11, "font": "DejaVu Sans", "color": "black"},
          "encoding": {
            "text": {"field": "label"},
            "x": {"datum": 1.5, "type": "quantitative", "axis": null},
            "y": {"datum": 1.55, "type": "quantitative", "axis": null}
          }
        }
      ]
    },
    {
      "width": 418, "height": 323,
      "title": {"text": "English Article Network In Degree Distribution"},
      "data": {"name": "english"},
      "resolve": {"axis": {"x": "independent", "y": "independent"}},
      "layer": [
        {
          "mark": {"type": "circle", "clip": true, "size": 50, "opacity": 1, "stroke": "#1a1a1a", "strokeWidth": 0.5},
          "encoding": {
            "x": {"field": "degree", "type": "quantitative", "scale": {"type": "log", "domain": [1, 10000], "nice": false},
                  "axis": {"title": "total degree", "values": [1, 10, 100, 1000, 10000], "ticks": false, "labelPadding": 8, "titlePadding": 3,
                           "labelExpr": "'10' + ['⁰','¹','²','³','⁴','⁵','⁶','⁷'][round(log(datum.value)/LN10)]"}},
            "y": {"field": "count", "type": "quantitative", "scale": {"type": "log", "domain": [1, 10000000], "nice": false},
                  "axis": {"title": "number of nodes", "values": [1, 10, 100, 1000, 10000, 100000, 1000000, 10000000], "ticks": false, "labelPadding": 2, "titlePadding": 5,
                           "labelExpr": "'10' + ['⁰','¹','²','³','⁴','⁵','⁶','⁷'][round(log(datum.value)/LN10)]"}},
            "color": {"field": "series", "type": "nominal",
                      "scale": {"domain": ["All", "Featured Article", "Non-Featured Article"], "range": ["#9400D3", "#008000", "#7B68EE"]},
                      "legend": {"title": null, "symbolType": "M-1,0a0.5,0.5 0 1,0 1,0a0.5,0.5 0 1,0 -1,0M2.88,0a0.5,0.5 0 1,0 1,0a0.5,0.5 0 1,0 -1,0"}}
          }
        },
        {
          "mark": {"type": "circle", "opacity": 0},
          "encoding": {
            "x": {"field": "degree", "type": "quantitative", "axis": {"orient": "bottom", "values": [1, 10, 100, 1000, 10000], "labels": false, "tickSize": -4, "title": null}},
            "y": {"field": "count", "type": "quantitative", "axis": {"orient": "left", "values": [1, 10, 100, 1000, 10000, 100000, 1000000, 10000000], "labels": false, "tickSize": -4, "title": null}}
          }
        },
        {
          "mark": {"type": "circle", "opacity": 0},
          "encoding": {
            "x": {"field": "degree", "type": "quantitative", "axis": {"orient": "bottom", "values": [2,3,4,5,6,7,8,9,20,30,40,50,60,70,80,90,200,300,400,500,600,700,800,900,2000,3000,4000,5000,6000,7000,8000,9000], "labels": false, "tickSize": -2, "title": null}},
            "y": {"field": "count", "type": "quantitative", "axis": {"orient": "left", "values": [2,3,4,5,6,7,8,9,20,30,40,50,60,70,80,90,200,300,400,500,600,700,800,900,2000,3000,4000,5000,6000,7000,8000,9000,20000,30000,40000,50000,60000,70000,80000,90000,200000,300000,400000,500000,600000,700000,800000,900000,2000000,3000000,4000000,5000000,6000000,7000000,8000000,9000000], "labels": false, "tickSize": -2, "title": null}}
          }
        },
        {
          "mark": {"type": "circle", "opacity": 0},
          "encoding": {
            "x": {"field": "degree", "type": "quantitative", "axis": {"orient": "top", "values": [1, 10, 100, 1000, 10000], "labels": false, "tickSize": -4, "title": null}},
            "y": {"field": "count", "type": "quantitative", "axis": {"orient": "right", "values": [1, 10, 100, 1000, 10000, 100000, 1000000, 10000000], "labels": false, "tickSize": -4, "title": null}}
          }
        },
        {
          "mark": {"type": "circle", "opacity": 0},
          "encoding": {
            "x": {"field": "degree", "type": "quantitative", "axis": {"orient": "top", "values": [2,3,4,5,6,7,8,9,20,30,40,50,60,70,80,90,200,300,400,500,600,700,800,900,2000,3000,4000,5000,6000,7000,8000,9000], "labels": false, "tickSize": -2, "title": null}},
            "y": {"field": "count", "type": "quantitative", "axis": {"orient": "right", "values": [2,3,4,5,6,7,8,9,20,30,40,50,60,70,80,90,200,300,400,500,600,700,800,900,2000,3000,4000,5000,6000,7000,8000,9000,20000,30000,40000,50000,60000,70000,80000,90000,200000,300000,400000,500000,600000,700000,800000,900000,2000000,3000000,4000000,5000000,6000000,7000000,8000000,9000000], "labels": false, "tickSize": -2, "title": null}}
          }
        },
        {
          "data": {"values": [{"label": "log/log scale"}]},
          "mark": {"type": "text", "align": "left", "baseline": "alphabetic", "fontSize": 11, "font": "DejaVu Sans", "color": "black"},
          "encoding": {
            "text": {"field": "label"},
            "x": {"datum": 1.48, "type": "quantitative", "axis": null},
            "y": {"datum": 1.47, "type": "quantitative", "axis": null}
          }
        }
      ]
    }
  ],
  "resolve": {"legend": {"color": "independent"}},
  "config": {
    "font": "DejaVu Sans",
    "view": {"stroke": "black", "strokeWidth": 1},
    "title": {"fontSize": 13.4, "fontWeight": "normal", "font": "DejaVu Sans", "color": "black", "offset": -6.5, "anchor": "middle"},
    "axis": {"grid": false, "domain": false, "labelFont": "DejaVu Sans", "labelFontSize": 12, "labelColor": "black",
             "titleFont": "DejaVu Sans", "titleFontSize": 11, "titleFontWeight": "normal", "titleColor": "black",
             "tickColor": "black", "tickWidth": 0.8, "labelFlush": false, "labelOverlap": false},
    "legend": {"orient": "top-right", "offset": 7, "strokeColor": "black", "fillColor": "white", "padding": 6,
               "labelFontSize": 13.4, "labelFont": "DejaVu Sans", "labelColor": "black",
               "symbolSize": 100, "symbolStrokeWidth": 0, "labelOffset": 23, "rowPadding": 4, "symbolOpacity": 1, "cornerRadius": 0, "strokeWidth": 1}
  }
}
